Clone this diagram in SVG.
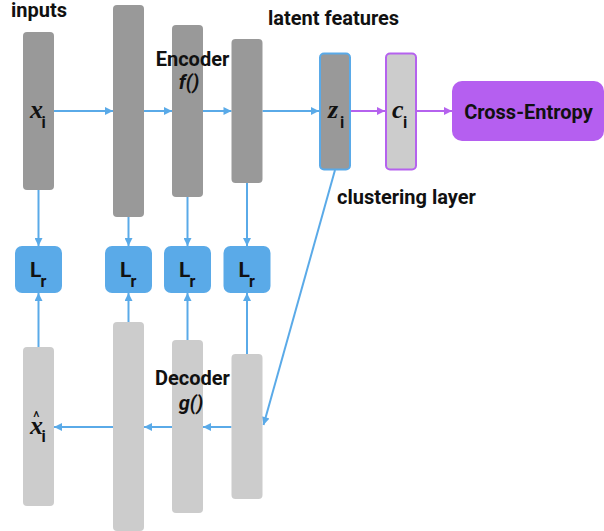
<svg xmlns="http://www.w3.org/2000/svg" width="604" height="531" viewBox="0 0 604 531">
<defs>
<style>
.enc{fill:#999999}
.dec{fill:#cccccc}
.lr{fill:#5aaae8}
.lbl{font-family:Roboto,"Noto Sans",sans-serif;font-weight:bold;font-size:20px;fill:#111}
.var{font-family:"Liberation Serif",serif;font-style:italic;font-weight:bold;font-size:26px;fill:#111}
.sub{font-family:Roboto,"Noto Sans",sans-serif;font-style:normal;font-weight:bold;font-size:16px;fill:#111}
.hat{font-family:Roboto,"Noto Sans",sans-serif;font-style:normal;font-weight:normal;font-size:16px}
.fn{font-family:Roboto,"Noto Sans",sans-serif;font-style:italic;font-weight:bold;font-size:20px;fill:#111}
.cb{fill:none;stroke:#5aaae8;stroke-width:2}
.cp{fill:none;stroke:#b562ee;stroke-width:2}
</style>
<marker id="ab" viewBox="0 0 10 10" refX="10" refY="5" markerWidth="10" markerHeight="8" markerUnits="userSpaceOnUse" orient="auto"><path d="M0,0 L10,5 L0,10 z" fill="#5aaae8"/></marker>
<marker id="ap" viewBox="0 0 10 10" refX="10" refY="5" markerWidth="10" markerHeight="8" markerUnits="userSpaceOnUse" orient="auto"><path d="M0,0 L10,5 L0,10 z" fill="#b562ee"/></marker>
</defs>
<g id="connectors">
<line class="cb" x1="54" y1="111" x2="113" y2="111" marker-end="url(#ab)"/>
<line class="cb" x1="144" y1="111" x2="172" y2="111" marker-end="url(#ab)"/>
<line class="cb" x1="203" y1="111" x2="231.5" y2="111" marker-end="url(#ab)"/>
<line class="cb" x1="262.5" y1="111" x2="319" y2="111" marker-end="url(#ab)"/>
<line class="cp" x1="351" y1="111" x2="385" y2="111" marker-end="url(#ap)"/>
<line class="cp" x1="417" y1="111" x2="452" y2="111" marker-end="url(#ap)"/>
<line class="cb" x1="38.5" y1="190" x2="38.5" y2="246" marker-end="url(#ab)"/>
<line class="cb" x1="128.5" y1="217" x2="128.5" y2="246" marker-end="url(#ab)"/>
<line class="cb" x1="187.5" y1="197" x2="187.5" y2="246" marker-end="url(#ab)"/>
<line class="cb" x1="247" y1="183" x2="247" y2="246" marker-end="url(#ab)"/>
<line class="cb" x1="38.5" y1="347" x2="38.5" y2="293" marker-end="url(#ab)"/>
<line class="cb" x1="128.5" y1="322" x2="128.5" y2="293" marker-end="url(#ab)"/>
<line class="cb" x1="187.5" y1="340" x2="187.5" y2="293" marker-end="url(#ab)"/>
<line class="cb" x1="247" y1="354" x2="247" y2="293" marker-end="url(#ab)"/>
<line class="cb" x1="231.5" y1="427" x2="203" y2="427" marker-end="url(#ab)"/>
<line class="cb" x1="172" y1="427" x2="144" y2="427" marker-end="url(#ab)"/>
<line class="cb" x1="113" y1="427" x2="54" y2="427" marker-end="url(#ab)"/>
<line class="cb" x1="335" y1="170" x2="263.5" y2="425" marker-end="url(#ab)"/>
</g>
<g id="enc1"><rect class="enc" x="23" y="32" width="31" height="158" rx="4"/>
<text class="var" x="30" y="118">x<tspan class="sub" x="41.5" y="127.5">i</tspan></text></g>
<g id="enc2"><rect class="enc" x="113" y="5" width="31" height="212" rx="4"/></g>
<g id="enc3"><rect class="enc" x="172" y="25" width="31" height="172" rx="4"/></g>
<g id="enc4"><rect class="enc" x="231.5" y="39" width="31" height="144" rx="4"/></g>
<g id="z"><rect x="320" y="53.5" width="30" height="116" rx="4" fill="#999999" stroke="#5aaae8" stroke-width="2"/>
<text class="var" x="328" y="118">z<tspan class="sub" x="340" y="127.5">i</tspan></text></g>
<g id="c"><rect x="386" y="53.5" width="30" height="116" rx="4" fill="#cccccc" stroke="#b562ee" stroke-width="2"/>
<text class="var" x="392" y="118">c<tspan class="sub" x="403" y="127.5">i</tspan></text></g>
<g id="crossentropy"><rect x="452" y="81" width="152" height="60" rx="10" fill="#b55ff0"/>
<text class="lbl" x="528.5" y="119" text-anchor="middle">Cross-Entropy</text></g>
<g id="lr1"><rect class="lr" x="15" y="246" width="47" height="47" rx="7"/><text class="lbl" x="30" y="277" style="font-size:21px">L<tspan class="sub" x="40.5" y="287">r</tspan></text></g>
<g id="lr2"><rect class="lr" x="105" y="246" width="47" height="47" rx="7"/><text class="lbl" x="120" y="277" style="font-size:21px">L<tspan class="sub" x="130.5" y="287">r</tspan></text></g>
<g id="lr3"><rect class="lr" x="164" y="246" width="47" height="47" rx="7"/><text class="lbl" x="179" y="277" style="font-size:21px">L<tspan class="sub" x="189.5" y="287">r</tspan></text></g>
<g id="lr4"><rect class="lr" x="223.5" y="246" width="47" height="47" rx="7"/><text class="lbl" x="238.5" y="277" style="font-size:21px">L<tspan class="sub" x="249" y="287">r</tspan></text></g>
<g id="dec1"><rect class="dec" x="23" y="347" width="31" height="159" rx="4"/>
<text class="var" x="30" y="434">x<tspan class="hat" x="33" y="423">^</tspan><tspan class="sub" x="41.5" y="442">i</tspan></text></g>
<g id="dec2"><rect class="dec" x="113" y="322" width="31" height="209" rx="4"/></g>
<g id="dec3"><rect class="dec" x="172" y="340" width="31" height="173" rx="4"/></g>
<g id="dec4"><rect class="dec" x="231.5" y="354" width="31" height="145" rx="4"/></g>
<g id="labels">
<text class="lbl" x="11" y="17">inputs</text>
<text class="lbl" x="268" y="24.5">latent features</text>
<text class="lbl" x="192.5" y="65.5" text-anchor="middle">Encoder</text>
<text class="fn" x="189" y="89" text-anchor="middle">f()</text>
<text class="lbl" x="337" y="203.5">clustering layer</text>
<text class="lbl" x="192.5" y="384.5" text-anchor="middle">Decoder</text>
<text class="fn" x="191" y="409.5" text-anchor="middle">g()</text>
</g>
</svg>
